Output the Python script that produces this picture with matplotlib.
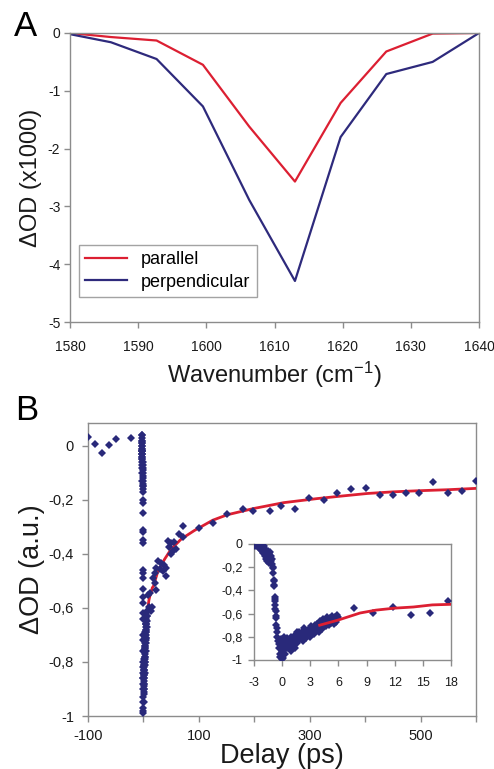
import matplotlib
matplotlib.use("Agg")
import matplotlib.pyplot as plt

plt.rcParams['font.family'] = ['Liberation Sans', 'DejaVu Sans']
plt.rcParams['mathtext.default'] = 'regular'
plt.rcParams['axes.unicode_minus'] = False

# ---------------- Panel A data ----------------
wavenumber = [1580, 1586, 1592.7, 1599.5, 1606.3, 1613, 1619.7, 1626.4, 1633.2, 1640]
parallel = [0.0, -0.07, -0.13, -0.55, -1.62, -2.57, -1.21, -0.32, -0.01, 0.0]
perpendicular = [-0.02, -0.16, -0.45, -1.27, -2.89, -4.29, -1.80, -0.71, -0.50, 0.0]
a_xticks = [1580, 1590, 1600, 1610, 1620, 1630, 1640]
a_yticks = [0, -1, -2, -3, -4, -5]

# ---------------- Panel B data ----------------
delay = [
    -100, -86.7, -74, -62, -48.8, -22.9,
    -3.0, -2.95, -2.9, -2.85, -2.8, -2.75, -2.7, -2.65, -2.6, -2.55, -2.5, -2.45,
    -2.4, -2.35, -2.3, -2.25, -2.2, -2.15, -2.1, -2.05, -2.0, -1.95, -1.9, -1.85,
    -1.8, -1.75, -1.7, -1.65, -1.6, -1.55, -1.5, -1.45, -1.4, -1.35, -1.3, -1.25,
    -1.2, -1.15, -1.1, -1.05, -1.0,
    -0.95, -0.95, -0.92, -0.9, -0.9, -0.88, -0.8, -0.8, -0.78, -0.75, -0.72, -0.7,
    -0.68, -0.65, -0.62, -0.6, -0.55, -0.5,
    -0.4, -0.35, -0.3, -0.25, -0.2, -0.15, -0.1, -0.05, 0.0, 0.05, 0.1, 0.15, 0.2,
    0.25, 0.3, 0.35, 0.4, 0.45, 0.5, 0.55, 0.6, 0.7, 0.75, 0.8, 0.9, 0.95, 1.0,
    1.1, 1.15, 1.2, 1.3, 1.35, 1.4, 1.5, 1.55, 1.6, 1.7, 1.8, 1.85,
    2.0, 2.1, 2.2, 2.3, 2.4, 2.5, 2.6, 2.7, 2.8, 2.9, 3.0, 3.1, 3.2, 3.3, 3.4, 3.5,
    3.6, 3.7, 3.8, 3.9, 4.0, 4.1, 4.2, 4.3, 4.4, 4.5, 4.6, 4.7, 4.8, 4.9, 5.0, 5.1,
    5.2, 5.3, 5.4, 5.5, 5.6, 5.7, 5.8, 5.9, 6.0,
    7.7, 9.7, 11.8, 13.7, 15.75, 17.7,
    20, 20, 23, 23, 26, 29, 32, 35, 38, 41, 41, 44, 47, 50, 50, 53, 56, 59, 65, 71, 72,
    100.6, 125.9, 150, 179, 198, 229, 249, 273, 299, 325, 350, 375, 401, 426, 451,
    474, 498, 523, 549, 574, 600,
]
signal = [
    0.035, 0.009, -0.025, 0.003, 0.025, 0.029,
    0.01, -0.01, 0.03, -0.02, 0.0, 0.04, -0.01, 0.02, -0.03, 0.02, -0.02, 0.0,
    -0.04, 0.04, -0.03, 0.01, -0.05, -0.02, -0.06, -0.03, -0.08, -0.04, -0.02, -0.07,
    -0.10, -0.05, -0.13, -0.08, -0.15, -0.11, -0.06, -0.14, -0.09, -0.16, -0.12, -0.07,
    -0.15, -0.10, -0.17, -0.13, -0.20,
    -0.21, -0.25, -0.31, -0.32, -0.35, -0.36, -0.46, -0.47, -0.49, -0.53, -0.56, -0.58,
    -0.62, -0.64, -0.70, -0.72, -0.76, -0.80,
    -0.84, -0.90, -0.86, -0.95, -0.97, -0.88, -0.82, -0.93, -0.99, -0.86, -0.98, -0.84, -0.91,
    -0.80, -0.88, -0.95, -0.83, -0.87, -0.90, -0.81, -0.85, -0.89, -0.83, -0.86, -0.92, -0.80, -0.84,
    -0.88, -0.82, -0.86, -0.79, -0.84, -0.90, -0.81, -0.76, -0.85, -0.80, -0.83, -0.76,
    -0.80, -0.76, -0.84, -0.72, -0.78, -0.81, -0.75, -0.79, -0.74, -0.77, -0.80, -0.71, -0.75, -0.73, -0.78, -0.70,
    -0.74, -0.69, -0.72, -0.76, -0.66, -0.71, -0.68, -0.73, -0.65, -0.69, -0.66, -0.71, -0.63, -0.67, -0.70, -0.64,
    -0.68, -0.62, -0.66, -0.69, -0.63, -0.67, -0.61, -0.65, -0.63,
    -0.553, -0.596, -0.545, -0.61, -0.596, -0.49,
    -0.47, -0.508, -0.451, -0.533, -0.426, -0.457, -0.432, -0.464, -0.439, -0.451, -0.482,
    -0.351, -0.376, -0.361, -0.40, -0.388, -0.357, -0.382, -0.326, -0.338, -0.298,
    -0.303, -0.286, -0.253, -0.233, -0.242, -0.242, -0.221, -0.233, -0.194, -0.20, -0.175,
    -0.16, -0.154, -0.183, -0.183, -0.175, -0.175, -0.135, -0.175, -0.167, -0.129,
]
fit_delay = [4, 6, 8.3, 10, 12, 14, 16, 18, 26, 38, 50, 68, 92, 125, 151, 198, 253,
             313, 360, 404, 450, 494, 550, 601]
fit_signal = [-0.70, -0.655, -0.595, -0.57, -0.553, -0.543, -0.525, -0.52, -0.464,
              -0.42, -0.382, -0.345, -0.313, -0.275, -0.255, -0.232, -0.21, -0.195,
              -0.185, -0.176, -0.17, -0.166, -0.162, -0.157]

b_xticks = [-100, 0, 100, 200, 300, 400, 500, 600]
b_xticklabels = ["-100", "", "100", "", "300", "", "500", ""]
b_yticks = [0, -0.2, -0.4, -0.6, -0.8, -1.0]
b_yticklabels = ["0", "-0,2", "-0,4", "-0,6", "-0,8", "-1"]
in_xticks = [-3, 0, 3, 6, 9, 12, 15, 18]
in_yticks = [0, -0.2, -0.4, -0.6, -0.8, -1.0]
in_yticklabels = ["0", "-0,2", "-0,4", "-0,6", "-0,8", "-1"]

RED = '#DC1F32'
BLUE = '#2E2A7C'
NAVY = '#29297A'
SPINE = '#8C8C8C'

W, H = 494, 769
fig = plt.figure(figsize=(W / 100, H / 100), dpi=100)


def rect(l, t, r, b):
    return [l / W, 1 - b / H, (r - l) / W, (b - t) / H]


def style(ax, fs, xpad, ypad):
    for s in ax.spines.values():
        s.set_color(SPINE)
        s.set_linewidth(1.0)
    ax.tick_params(direction='out', length=4, width=1.0, color=SPINE,
                   labelsize=fs, labelcolor='#1a1a1a')
    ax.tick_params(axis='x', pad=xpad)
    ax.tick_params(axis='y', pad=ypad)


# ---------------- Panel A ----------------
axA = fig.add_axes(rect(70, 33, 479, 322))
axA.plot(wavenumber, parallel, color=RED, lw=1.6, label='parallel')
axA.plot(wavenumber, perpendicular, color=BLUE, lw=1.6, label='perpendicular')
axA.set_xlim(1580, 1640)
axA.set_ylim(-5, 0)
axA.set_xticks(a_xticks)
axA.set_yticks(a_yticks)
style(axA, 10, 9, 3)
axA.set_xlabel('Wavenumber (cm$^{-1}$)', fontsize=17, color='#1a1a1a')
axA.set_ylabel('ΔOD (x1000)', fontsize=17, color='#1a1a1a')
axA.xaxis.set_label_coords(0.5, -0.13)
axA.yaxis.set_label_coords(-0.068, 0.5)
leg = axA.legend(loc='lower left', bbox_to_anchor=(0.022, 0.0865), borderaxespad=0,
                 fontsize=13, frameon=True, fancybox=False, edgecolor=SPINE,
                 handlelength=2.3, handletextpad=0.8, labelspacing=0.3,
                 borderpad=0.35)
leg.get_frame().set_linewidth(1.0)
fig.text(25 / W, 1 - 26 / H, 'A', fontsize=25, ha='center', va='center')

# ---------------- Panel B ----------------
axB = fig.add_axes(rect(88, 423, 476, 716))
axB.plot(delay, signal, linestyle='none', marker='D', ms=4.2, color=NAVY,
         markeredgewidth=0, zorder=4)
axB.plot(fit_delay, fit_signal, color=RED, lw=2.0, zorder=3)
axB.set_xlim(-100, 600)
axB.set_ylim(-1.0, 0.085)
axB.set_xticks(b_xticks)
axB.set_xticklabels(b_xticklabels)
axB.set_yticks(b_yticks)
axB.set_yticklabels(b_yticklabels)
style(axB, 10.5, 5, 6)
axB.set_xlabel('Delay (ps)', fontsize=19.5, color='#1a1a1a')
axB.set_ylabel('ΔOD (a.u.)', fontsize=19.5, color='#1a1a1a')
axB.xaxis.set_label_coords(0.5, -0.092)
axB.yaxis.set_label_coords(-0.11, 0.5)
fig.text(27 / W, 1 - 411 / H, 'B', fontsize=25, ha='center', va='center')

# ---------------- Inset ----------------
axI = fig.add_axes(rect(254, 544, 451, 660))
axI.plot(delay, signal, linestyle='none', marker='D', ms=4.0, color=NAVY,
         markeredgewidth=0, zorder=3)
axI.plot(fit_delay, fit_signal, color=RED, lw=2.0, zorder=4)
axI.set_xlim(-3, 18)
axI.set_ylim(-1, 0)
axI.set_xticks(in_xticks)
axI.set_yticks(in_yticks)
axI.set_yticklabels(in_yticklabels)
style(axI, 9, 8, 4)

fig.savefig('out.png', dpi=100)
